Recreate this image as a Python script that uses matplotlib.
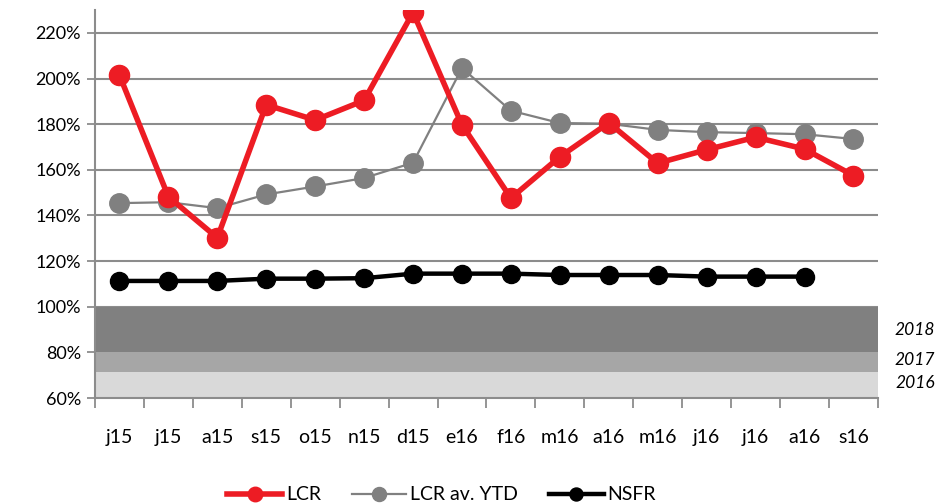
import matplotlib.pyplot as plt
from matplotlib.ticker import FuncFormatter

months = ['j15', 'j15', 'a15', 's15', 'o15', 'n15', 'd15', 'e16',
          'f16', 'm16', 'a16', 'm16', 'j16', 'j16', 'a16', 's16']
lcr = [201.5, 148.2, 130.2, 188.5, 181.8, 190.4, 229.0, 179.7,
       147.6, 165.7, 180.6, 162.9, 168.8, 174.3, 169.1, 157.5]
lcr_ytd = [145.4, 145.8, 143.2, 149.2, 152.7, 156.4, 163.1, 204.6,
           185.9, 180.5, 180.2, 177.5, 176.5, 176.1, 175.6, 173.5]
nsfr = [111.3, 111.3, 111.3, 112.3, 112.3, 112.5, 114.5, 114.5,
        114.5, 113.9, 113.9, 113.9, 113.2, 113.2, 113.2]
# regulatory minimum bands
band_years = ['2016', '2017', '2018']
band_low = [60, 71.5, 80]
band_high = [71.5, 80, 100]
band_colors = ['#d9d9d9', '#a6a6a6', '#808080']
label_y = [66.5, 76.5, 90]

plt.rcParams['font.family'] = ['Lato', 'DejaVu Sans']

fig = plt.figure(figsize=(9.44, 5.04), dpi=100)
ax = fig.add_axes([0.1006, 0.2103, 0.8294, 0.7697])

n = len(months)
x = list(range(n))

for y in range(60, 221, 20):
    ax.axhline(y, color='#8c8c8c', lw=1.5, zorder=0)

for lo, hi, c in zip(band_low, band_high, band_colors):
    ax.fill_between([-0.5, n - 0.5], lo, hi, color=c, lw=0, zorder=1)

ax.plot(x, lcr, color='#ed1c24', lw=4, marker='o', ms=14.5, label='LCR', zorder=4)
ax.plot(x, lcr_ytd, color='#808080', lw=1.6, marker='o', ms=14, label='LCR av. YTD', zorder=3)
ax.plot(x[:len(nsfr)], nsfr, color='black', lw=3.2, marker='o', ms=13, label='NSFR', zorder=5)

ax.set_xlim(-0.5, n - 0.5)
ax.set_ylim(60, 230)
ax.set_yticks(range(60, 221, 20))
ax.yaxis.set_major_formatter(FuncFormatter(lambda v, p: f'{v:.0f}%'))
ax.set_xticks(x)
ax.set_xticklabels(months)
ax.set_xticks([i - 0.5 for i in range(n + 1)], minor=True)
ax.tick_params(axis='x', which='major', length=0, pad=22, labelsize=14)
ax.tick_params(axis='x', which='minor', length=7, width=1.3, color='#8c8c8c')
ax.tick_params(axis='y', length=6, width=1.3, color='#8c8c8c', labelsize=13, pad=4)

for s in ['top', 'right']:
    ax.spines[s].set_visible(False)
for s in ['left', 'bottom']:
    ax.spines[s].set_color('#8c8c8c')
    ax.spines[s].set_linewidth(1.5)

for yr, ly in zip(band_years, label_y):
    ax.text(1.073, ly, yr, transform=ax.get_yaxis_transform(),
            ha='right', va='center', style='italic', fontsize=12.5)

fig.legend(loc='center', bbox_to_anchor=(0.468, 0.018), ncol=3, frameon=False,
           fontsize=14, handlelength=2.8, columnspacing=1.6, handletextpad=0.2,
           markerscale=0.72)

fig.savefig('out.png', dpi=100)
